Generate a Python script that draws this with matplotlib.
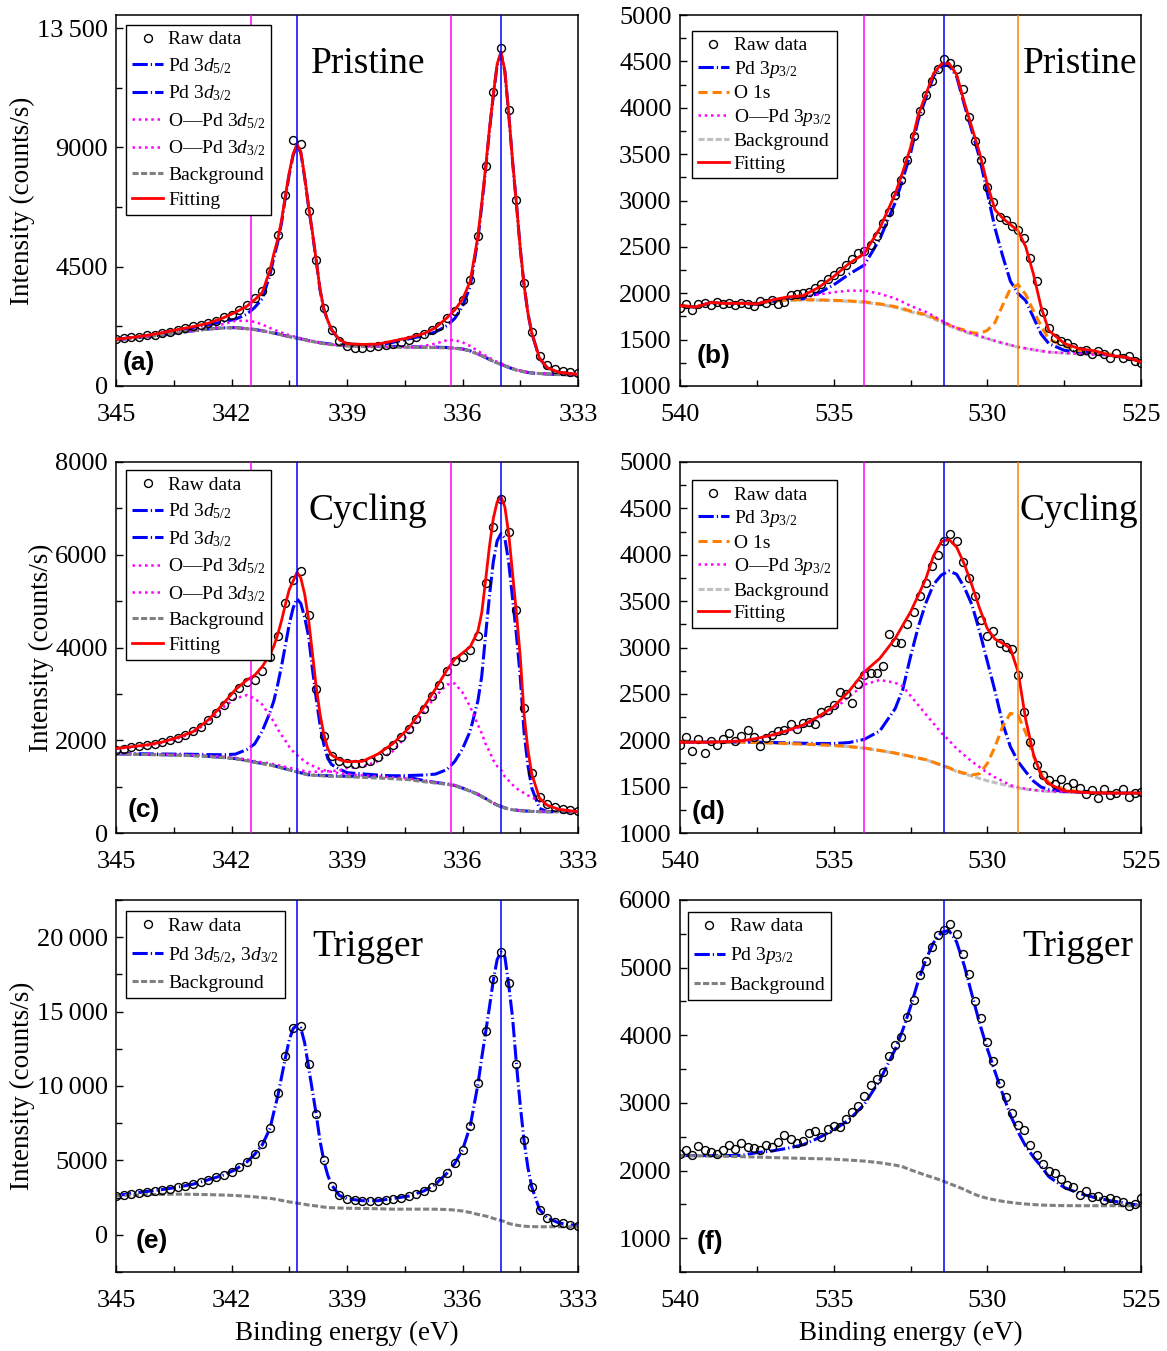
import numpy as np
import matplotlib as mpl
import matplotlib.pyplot as plt
from matplotlib.ticker import MultipleLocator, FixedLocator, FuncFormatter

mpl.use("Agg")

plt.rcParams["font.family"] = ["Liberation Serif", "DejaVu Serif"]
plt.rcParams["mathtext.fontset"] = "custom"
plt.rcParams["mathtext.rm"] = "Liberation Serif"
plt.rcParams["mathtext.it"] = "Liberation Serif:italic"
plt.rcParams["mathtext.bf"] = "Liberation Serif:bold"

# ---------------- Pd 3d region (panels a, c, e) ----------------
d_raw_x = np.linspace(345, 333, 61)
d_grid = [345.0, 344.6, 344.2, 343.8, 343.4, 343.0, 342.6, 342.2, 341.9, 341.6,
          341.4, 341.2, 341.0, 340.9, 340.8, 340.7, 340.6, 340.5, 340.4, 340.3,
          340.2, 340.1, 340.0, 339.9, 339.8, 339.7, 339.6, 339.5, 339.4, 339.2,
          339.0, 338.6, 338.2, 337.8, 337.4, 337.0, 336.7, 336.4, 336.2, 336.0,
          335.8, 335.6, 335.5, 335.4, 335.3, 335.2, 335.1, 335.0, 334.9, 334.8,
          334.7, 334.6, 334.5, 334.4, 334.3, 334.2, 334.0, 333.8, 333.5, 333.0]
d_vlines_blue = [340.3, 335.0]
d_vlines_mag = [341.5, 336.3]

# (a) Pristine
a_raw = [1780, 1800, 1840, 1850, 1920, 1940, 2010, 2050, 2120, 2200,
         2260, 2290, 2380, 2470, 2600, 2690, 2870, 3050, 3330, 3580,
         4330, 5700, 7200, 9300, 9150, 6600, 4750, 2950, 2100, 1700,
         1520, 1450, 1430, 1460, 1500, 1530, 1580, 1660, 1740, 1850,
         1960, 2100, 2280, 2560, 2840, 3250, 4000, 5650, 8300, 11100,
         12750, 10400, 7000, 3900, 2050, 1120, 800, 650, 580, 530,
         480]
a_fit = [1765, 1830, 1910, 2010, 2130, 2240, 2370, 2580, 2780, 3010,
         3250, 3530, 4380, 4990, 5530, 6250, 7190, 8050, 8750, 9130,
         8850, 7900, 6800, 5820, 4750, 3640, 2900, 2470, 2130, 1750,
         1600, 1570, 1580, 1700, 1820, 1980, 2200, 2580, 2870, 3270,
         3950, 5650, 6900, 8250, 9700, 11000, 12150, 12600, 11900, 10300,
         8500, 6900, 5200, 3800, 2750, 2000, 1050, 690, 520, 440]
a_bg = [1740, 1800, 1860, 1920, 2010, 2080, 2150, 2190, 2200, 2160,
        2130, 2080, 2020, 1990, 1960, 1930, 1890, 1860, 1830, 1800,
        1770, 1740, 1700, 1680, 1650, 1620, 1600, 1580, 1560, 1530,
        1510, 1490, 1480, 1470, 1460, 1450, 1450, 1440, 1420, 1390,
        1320, 1200, 1140, 1070, 1000, 930, 870, 820, 760, 700,
        650, 600, 570, 540, 510, 490, 470, 450, 430, 420]
a_pd52 = [1742, 1802, 1862, 1922, 2012, 2082, 2152, 2193, 2203, 2164,
          2134, 2085, 2026, 1996, 1967, 1937, 1898, 1868, 1839, 1810,
          1780, 1751, 1712, 1693, 1663, 1634, 1615, 1596, 1577, 1549,
          1531, 1520, 1540, 1650, 1775, 1905, 2038, 2280, 2550, 3000,
          3760, 5530, 6805, 8175, 9640, 10950, 12110, 12565, 11870, 10275,
          8478, 6882, 5185, 3788, 2740, 1992, 1045, 686, 517, 437]
a_pd32 = [1761, 1825, 1902, 1998, 2110, 2210, 2310, 2430, 2520, 2710,
          2960, 3290, 4210, 4850, 5420, 6160, 7120, 7990, 8700, 9090,
          8800, 7870, 6775, 5800, 4730, 3620, 2885, 2457, 2118, 1740,
          1592, 1530, 1510, 1495, 1480, 1468, 1465, 1452, 1430, 1398,
          1327, 1206, 1145, 1075, 1004, 934, 873, 823, 762, 702,
          652, 602, 572, 541, 511, 491, 471, 451, 431, 421]
a_opd52 = [1743, 1803, 1863, 1923, 2013, 2083, 2153, 2193, 2203, 2163,
           2133, 2083, 2023, 1993, 1963, 1933, 1893, 1863, 1833, 1803,
           1773, 1743, 1703, 1683, 1653, 1623, 1603, 1583, 1563, 1533,
           1515, 1497, 1490, 1482, 1485, 1510, 1600, 1730, 1730, 1650,
           1510, 1320, 1235, 1145, 1060, 980, 910, 855, 790, 725,
           672, 618, 584, 552, 520, 498, 476, 454, 433, 422]
a_opd32 = [1744, 1805, 1868, 1932, 2030, 2110, 2210, 2340, 2460, 2460,
           2420, 2320, 2190, 2130, 2070, 2020, 1960, 1920, 1880, 1840,
           1805, 1770, 1725, 1702, 1670, 1638, 1615, 1593, 1572, 1540,
           1518, 1496, 1485, 1474, 1463, 1453, 1452, 1442, 1421, 1391,
           1321, 1201, 1141, 1071, 1001, 931, 871, 821, 761, 701,
           651, 601, 571, 541, 511, 491, 471, 451, 431, 421]

# (c) Cycling
c_raw = [1800, 1820, 1850, 1870, 1890, 1920, 1960, 2000, 2050, 2110,
         2190, 2290, 2430, 2580, 2770, 2960, 3120, 3250, 3300, 3500,
         3800, 4250, 4950, 5450, 5650, 4700, 3100, 2100, 1650, 1550,
         1500, 1480, 1510, 1560, 1640, 1760, 1900, 2060, 2240, 2450,
         2680, 2950, 3200, 3500, 3700, 3800, 3950, 4250, 5400, 6600,
         7200, 6500, 4800, 2700, 1300, 780, 620, 560, 520, 500,
         470]
c_fit = [1825, 1860, 1900, 1960, 2060, 2184, 2440, 2800, 3090, 3300,
         3400, 3590, 3850, 4030, 4280, 4580, 4930, 5250, 5430, 5620,
         5500, 5150, 4620, 3890, 3150, 2560, 2120, 1820, 1680, 1580,
         1537, 1545, 1700, 1932, 2260, 2720, 3110, 3520, 3750, 3880,
         4016, 4350, 4750, 5450, 6180, 6781, 7140, 7248, 7032, 6450,
         5600, 4750, 3800, 2550, 1790, 1270, 750, 600, 510, 460]
c_bg = [1703, 1697, 1691, 1684, 1677, 1667, 1648, 1625, 1600, 1560,
        1523, 1495, 1466, 1445, 1425, 1403, 1380, 1358, 1336, 1315,
        1293, 1272, 1250, 1246, 1241, 1237, 1232, 1228, 1225, 1220,
        1214, 1200, 1186, 1170, 1150, 1106, 1078, 1050, 1020, 963,
        900, 830, 783, 740, 690, 640, 600, 568, 540, 515,
        500, 490, 481, 475, 470, 466, 460, 460, 460, 460]
c_pd52 = [1708, 1702, 1696, 1689, 1682, 1672, 1653, 1630, 1605, 1565,
          1528, 1500, 1471, 1450, 1430, 1408, 1385, 1363, 1341, 1320,
          1298, 1277, 1256, 1252, 1247, 1243, 1238, 1235, 1232, 1228,
          1224, 1225, 1225, 1230, 1240, 1250, 1270, 1370, 1545, 1813,
          2196, 2850, 3383, 4270, 5110, 5851, 6300, 6456, 6358, 5835,
          5060, 4277, 3371, 2165, 1450, 966, 530, 460, 461, 460]
c_pd32 = [1712, 1708, 1705, 1703, 1700, 1697, 1690, 1688, 1700, 1800,
          1920, 2200, 2600, 2850, 3200, 3600, 4050, 4500, 4850, 5050,
          4950, 4650, 4250, 3550, 2900, 2330, 1900, 1610, 1475, 1380,
          1300, 1275, 1250, 1230, 1200, 1130, 1090, 1058, 1026, 968,
          905, 834, 787, 744, 694, 644, 604, 572, 543, 518,
          503, 493, 484, 477, 472, 468, 462, 461, 461, 460]
c_opd52 = [1710, 1705, 1700, 1695, 1690, 1682, 1665, 1645, 1622, 1585,
           1550, 1525, 1500, 1482, 1465, 1446, 1426, 1407, 1388, 1370,
           1352, 1335, 1318, 1320, 1322, 1325, 1327, 1330, 1335, 1350,
           1400, 1430, 1550, 1770, 2140, 2620, 2950, 3200, 3225, 3030,
           2720, 2330, 2150, 1920, 1760, 1570, 1440, 1360, 1214, 1130,
           1040, 963, 910, 860, 810, 770, 680, 600, 505, 465]
c_opd32 = [1815, 1848, 1885, 1942, 2038, 2155, 2400, 2720, 2900, 2974,
           2900, 2770, 2520, 2400, 2240, 2110, 1990, 1860, 1760, 1680,
           1610, 1550, 1490, 1450, 1410, 1380, 1355, 1335, 1320, 1290,
           1265, 1240, 1220, 1198, 1173, 1125, 1095, 1064, 1032, 975,
           910, 840, 792, 748, 697, 646, 606, 574, 545, 520,
           504, 494, 485, 478, 473, 469, 463, 462, 461, 460]

# (e) Trigger
e_raw = [2620, 2700, 2760, 2830, 2900, 2950, 3030, 3110, 3180, 3280,
         3400, 3530, 3700, 3860, 4000, 4250, 4550, 4900, 5450, 6100,
         7200, 9500, 12000, 13900, 14000, 11500, 8100, 5000, 3300, 2700,
         2430, 2330, 2290, 2280, 2290, 2350, 2430, 2500, 2600, 2760,
         2920, 3200, 3600, 4150, 4850, 5700, 7300, 10200, 13700, 17200,
         19000, 16900, 11500, 6400, 3200, 1700, 1150, 880, 760, 670,
         600]
e_pd = [2620, 2780, 2910, 3040, 3200, 3400, 3700, 4020, 4380, 4900,
        5400, 6050, 7150, 8250, 9300, 10600, 11900, 13100, 13850, 14100,
        13900, 12900, 11300, 9700, 8100, 6300, 4950, 4000, 3350, 2650,
        2420, 2290, 2290, 2440, 2600, 2950, 3400, 4150, 4800, 5700,
        7300, 10100, 11900, 13600, 15300, 17100, 18500, 19000, 18700, 16800,
        14600, 11500, 8700, 6300, 4500, 3200, 1700, 1130, 800, 600]
e_bg = [2620, 2660, 2700, 2720, 2730, 2720, 2700, 2670, 2640, 2590,
        2550, 2500, 2450, 2410, 2370, 2310, 2260, 2210, 2170, 2130,
        2090, 2050, 2000, 1970, 1940, 1900, 1860, 1835, 1820, 1800,
        1785, 1770, 1750, 1724, 1724, 1724, 1720, 1700, 1660, 1600,
        1500, 1370, 1320, 1260, 1200, 1100, 1030, 960, 880, 760,
        700, 650, 610, 580, 560, 550, 540, 539, 539, 539]

# ---------------- Pd 3p / O 1s region (panels b, d, f) ----------------
p_raw_x = np.linspace(540, 525, 76)
p_grid = [540.0, 539.5, 539.0, 538.5, 538.0, 537.5, 537.0, 536.5, 536.0, 535.5,
          535.0, 534.5, 534.0, 533.5, 533.0, 532.75, 532.5, 532.25, 532.0, 531.75,
          531.5, 531.25, 531.0, 530.75, 530.5, 530.25, 530.0, 529.75, 529.5, 529.25,
          529.0, 528.75, 528.5, 528.25, 528.0, 527.5, 527.0, 526.5, 526.0, 525.5,
          525.0]
p_vline_mag = 534.0
p_vline_blue = 531.4
p_vline_orange = 529.0

# (b) Pristine
b_raw = [1840, 1880, 1820, 1880, 1900, 1870, 1910, 1880, 1900, 1870,
         1900, 1880, 1860, 1920, 1900, 1930, 1880, 1910, 1980, 1990,
         2000, 2010, 2060, 2100, 2150, 2200, 2240, 2300, 2370, 2430,
         2460, 2520, 2620, 2760, 2880, 3060, 3220, 3440, 3700, 3960,
         4140, 4290, 4420, 4530, 4480, 4420, 4200, 3900, 3640, 3440,
         3150, 2980, 2820, 2790, 2730, 2680, 2600, 2380, 2130, 1800,
         1620, 1520, 1480, 1460, 1420, 1380, 1390, 1350, 1380, 1340,
         1300, 1360, 1300, 1320, 1270, 1250]
b_fit = [1867, 1850, 1900, 1890, 1892, 1885, 1928, 1960, 1975, 2060,
         2180, 2320, 2430, 2700, 3070, 3310, 3570, 3920, 4143, 4370,
         4470, 4480, 4358, 4060, 3784, 3510, 3175, 2900, 2810, 2740,
         2673, 2500, 2207, 1850, 1598, 1460, 1401, 1380, 1329, 1311,
         1258]
b_bg = [1867, 1850, 1900, 1890, 1892, 1885, 1915, 1925, 1928, 1925,
        1921, 1913, 1903, 1880, 1849, 1827, 1800, 1780, 1760, 1725,
        1688, 1650, 1616, 1585, 1560, 1535, 1509, 1485, 1462, 1440,
        1419, 1405, 1390, 1377, 1365, 1355, 1347, 1338, 1329, 1305,
        1265]
b_pd = [1866, 1849, 1899, 1889, 1890, 1880, 1913, 1935, 1940, 2000,
        2090, 2205, 2305, 2585, 2975, 3232, 3505, 3870, 4103, 4340,
        4450, 4459, 4338, 4035, 3749, 3456, 3082, 2700, 2400, 2130,
        1998, 1920, 1740, 1560, 1458, 1385, 1366, 1358, 1332, 1308,
        1266]
b_opd = [1868, 1852, 1903, 1894, 1898, 1894, 1930, 1950, 1963, 1985,
         2011, 2028, 2028, 1995, 1944, 1905, 1865, 1830, 1800, 1755,
         1708, 1663, 1626, 1592, 1565, 1539, 1512, 1487, 1464, 1442,
         1421, 1406, 1391, 1378, 1366, 1356, 1348, 1339, 1330, 1306,
         1266]
b_o1s = [1868, 1851, 1901, 1891, 1893, 1887, 1917, 1927, 1931, 1928,
         1924, 1917, 1907, 1885, 1855, 1834, 1808, 1789, 1770, 1737,
         1700, 1658, 1626, 1603, 1575, 1565, 1600, 1685, 1872, 2050,
         2094, 1985, 1810, 1647, 1505, 1430, 1382, 1360, 1344, 1315,
         1273]

# (d) Cycling
d_raw = [1950, 2030, 1880, 2010, 1860, 1990, 1950, 2010, 2080, 1990,
         2050, 2110, 2030, 1940, 2020, 2060, 2100, 2110, 2180, 2120,
         2190, 2200, 2170, 2300, 2330, 2380, 2520, 2500, 2400, 2610,
         2700, 2720, 2730, 2800, 3150, 3060, 3050, 3250, 3380, 3550,
         3700, 3880, 4000, 4150, 4220, 4150, 3920, 3750, 3550, 3300,
         3120, 3180, 3050, 3010, 2980, 2700, 2300, 1980, 1730, 1620,
         1570, 1530, 1580, 1500, 1540, 1480, 1420, 1460, 1380, 1470,
         1410, 1430, 1470, 1390, 1430, 1440]
d_fit = [1979, 1979, 1979, 1985, 1993, 2020, 2057, 2105, 2165, 2255,
         2362, 2530, 2738, 2882, 3097, 3240, 3383, 3560, 3742, 3990,
         4140, 4165, 4082, 3900, 3670, 3420, 3204, 3090, 3045, 2990,
         2738, 2220, 1850, 1620, 1530, 1455, 1440, 1432, 1430, 1430,
         1430]
d_bg = [1979, 1979, 1979, 1979, 1979, 1974, 1968, 1963, 1957, 1950,
        1943, 1930, 1914, 1888, 1860, 1843, 1825, 1807, 1789, 1760,
        1730, 1700, 1663, 1638, 1613, 1588, 1563, 1543, 1523, 1503,
        1484, 1472, 1462, 1454, 1448, 1442, 1437, 1433, 1430, 1430,
        1430]
d_pd = [1980, 1980, 1981, 1981, 1982, 1980, 1976, 1972, 1968, 1965,
        1965, 1975, 2010, 2100, 2340, 2550, 2900, 3220, 3480, 3680,
        3780, 3825, 3790, 3650, 3460, 3170, 2850, 2530, 2180, 1930,
        1770, 1660, 1560, 1495, 1470, 1447, 1440, 1435, 1431, 1430,
        1430]
d_opd = [1980, 1980, 1980, 1984, 1990, 2012, 2048, 2095, 2150, 2235,
         2330, 2470, 2600, 2650, 2620, 2580, 2480, 2380, 2280, 2180,
         2080, 2000, 1910, 1840, 1770, 1710, 1650, 1600, 1560, 1515,
         1495, 1475, 1465, 1456, 1450, 1443, 1438, 1434, 1431, 1430,
         1430]
d_o1s = [1981, 1981, 1981, 1981, 1981, 1976, 1970, 1965, 1959, 1952,
         1945, 1932, 1916, 1890, 1862, 1845, 1827, 1809, 1791, 1763,
         1733, 1704, 1668, 1645, 1625, 1640, 1750, 1930, 2150, 2290,
         2270, 2080, 1830, 1640, 1545, 1470, 1445, 1437, 1433, 1431,
         1431]

# (f) Trigger
f_raw = [2250, 2300, 2230, 2370, 2310, 2280, 2250, 2300, 2380, 2320,
         2400, 2350, 2330, 2300, 2380, 2350, 2420, 2520, 2460, 2400,
         2440, 2560, 2580, 2500, 2620, 2660, 2650, 2760, 2870, 2950,
         3100, 3260, 3350, 3460, 3700, 3850, 3980, 4270, 4520, 4890,
         5100, 5300, 5480, 5550, 5650, 5500, 5200, 4900, 4500, 4250,
         3900, 3620, 3300, 3080, 2850, 2680, 2600, 2380, 2230, 2100,
         2000, 1960, 1880, 1780, 1760, 1640, 1700, 1610, 1620, 1570,
         1600, 1560, 1530, 1470, 1500, 1600]
f_pd = [2221, 2221, 2221, 2221, 2225, 2265, 2290, 2330, 2380, 2480,
        2600, 2750, 2980, 3334, 3790, 4080, 4420, 4800, 5120, 5370,
        5520, 5550, 5380, 5030, 4600, 4175, 3800, 3460, 3130, 2820,
        2570, 2360, 2200, 2060, 1910, 1750, 1660, 1600, 1554, 1520,
        1480]
f_bg = [2221, 2218, 2214, 2210, 2205, 2199, 2192, 2186, 2180, 2175,
        2168, 2155, 2140, 2115, 2080, 2055, 2010, 1970, 1930, 1895,
        1855, 1810, 1765, 1720, 1665, 1620, 1590, 1565, 1545, 1529,
        1515, 1505, 1497, 1490, 1486, 1481, 1480, 1480, 1480, 1480,
        1480]

BLUE = "#0000ff"
MAG = "#ff00ff"
ORANGE = "#ff8000"
RED = "#ff0000"
GRAY = "#808080"
LGRAY = "#c0c0c0"

PD_LS = (0, (5, 1, 0.4, 1))
BG_LS = (0, (2, 0.8))
MAG_LS = (0, (1, 1.5))
OR_LS = (0, (3, 1.6))

fig = plt.figure(figsize=(11.67, 13.51), dpi=100)
W, H = 1167, 1351
rows = [(15, 386), (462, 833), (900, 1272)]
axes = {}
for r, (top, bot) in enumerate(rows):
    axes[2 * r] = fig.add_axes([116 / W, 1 - bot / H, 462 / W, (bot - top) / H])
    axes[2 * r + 1] = fig.add_axes([680 / W, 1 - bot / H, 461 / W, (bot - top) / H])


def fmt(v, pos):
    v = int(round(v))
    if abs(v) >= 10000:
        return f"{v // 1000}\u2009{v % 1000:03d}"
    return f"{v}"


def style(ax, xlim, xmaj, xmin, ylim, ymaj, ymin):
    ax.set_xlim(*xlim)
    ax.set_ylim(*ylim)
    ax.xaxis.set_major_locator(MultipleLocator(xmaj))
    ax.xaxis.set_minor_locator(MultipleLocator(xmin))
    ax.yaxis.set_major_locator(FixedLocator(ymaj))
    ax.yaxis.set_minor_locator(MultipleLocator(ymin))
    ax.yaxis.set_major_formatter(FuncFormatter(fmt))
    ax.tick_params(which="both", direction="in", labelsize=19, width=1)
    ax.tick_params(which="major", length=5)
    ax.tick_params(which="minor", length=4)
    ax.tick_params(axis="x", which="major", pad=13)
    ax.tick_params(axis="y", which="major", pad=6)
    for s in ax.spines.values():
        s.set_linewidth(1.1)


def raw(ax, x, y):
    ax.plot(x, y, "o", ms=5.7, mfc="none", mec="k", mew=1.0, label="Raw data", zorder=3)


def legend(ax, anchor, spacing):
    lg = ax.legend(loc="upper left", bbox_to_anchor=anchor, borderaxespad=0,
                   fontsize=14, frameon=True, fancybox=False, framealpha=1,
                   edgecolor="k", handlelength=1.6, handletextpad=0.25,
                   labelspacing=spacing, borderpad=0.3)
    lg.get_frame().set_linewidth(1.0)
    lg.set_zorder(10)


def texts(ax, lab, lab_xy, title, title_xy, ha):
    ax.text(*lab_xy, lab, transform=ax.transAxes, fontfamily="Liberation Sans",
            fontweight="bold", fontsize=19, va="center", ha="left")
    ax.text(*title_xy, title, transform=ax.transAxes, fontsize=27, va="baseline", ha=ha)


def d_panel(ax, rawv, fit, bg, pd52, pd32, opd52, opd32, lab, title, lab_xy, anchor):
    raw(ax, d_raw_x, rawv)
    ax.plot(d_grid, pd52, color=BLUE, lw=2.2, ls=PD_LS, label=r"Pd 3$d_{5/2}$", zorder=2)
    ax.plot(d_grid, pd32, color=BLUE, lw=2.2, ls=PD_LS, label=r"Pd 3$d_{3/2}$", zorder=2)
    ax.plot(d_grid, opd52, color=MAG, lw=1.8, ls=MAG_LS, label=r"O—Pd 3$d_{5/2}$", zorder=2)
    ax.plot(d_grid, opd32, color=MAG, lw=1.8, ls=MAG_LS, label=r"O—Pd 3$d_{3/2}$", zorder=2)
    ax.plot(d_grid, bg, color=GRAY, lw=2.2, ls=BG_LS, label="Background", zorder=2)
    ax.plot(d_grid, fit, color=RED, lw=2.0, label="Fitting", zorder=4)
    for v in d_vlines_blue:
        ax.axvline(v, color=BLUE, lw=1.1, zorder=5)
    for v in d_vlines_mag:
        ax.axvline(v, color=MAG, lw=1.1, zorder=5)
    texts(ax, lab, lab_xy, title, (0.545, 0.844), "center")
    legend(ax, anchor, 0.40)


def p_panel(ax, rawv, fit, bg, pd, o1s, opd, lab, title, lab_xy, anchor):
    raw(ax, p_raw_x, rawv)
    ax.plot(p_grid, pd, color=BLUE, lw=2.2, ls=PD_LS, label=r"Pd 3$p_{3/2}$", zorder=2)
    ax.plot(p_grid, o1s, color=ORANGE, lw=2.2, ls=OR_LS, label="O 1s", zorder=2)
    ax.plot(p_grid, opd, color=MAG, lw=1.8, ls=MAG_LS, label=r"O—Pd 3$p_{3/2}$", zorder=2)
    ax.plot(p_grid, bg, color=LGRAY, lw=2.2, ls=BG_LS, label="Background", zorder=1.9)
    ax.plot(p_grid, fit, color=RED, lw=2.0, label="Fitting", zorder=4)
    ax.axvline(p_vline_mag, color=MAG, lw=1.1, zorder=5)
    ax.axvline(p_vline_blue, color=BLUE, lw=1.1, zorder=5)
    ax.axvline(p_vline_orange, color=ORANGE, lw=1.1, zorder=5)
    texts(ax, lab, lab_xy, title, (0.993, 0.844), "right")
    legend(ax, anchor, 0.24)


p_yticks = list(range(1000, 5001, 500))

ax = axes[0]
d_panel(ax, a_raw, a_fit, a_bg, a_pd52, a_pd32, a_opd52, a_opd32,
        "(a)", "Pristine", (0.015, 0.062), (0.022, 0.973))
style(ax, (345, 333), 3, 1.5, (0, 14000), [0, 4500, 9000, 13500], 2250)

ax = axes[1]
p_panel(ax, b_raw, b_fit, b_bg, b_pd, b_o1s, b_opd,
        "(b)", "Pristine", (0.037, 0.081), (0.026, 0.957))
style(ax, (540, 525), 5, 2.5, (1000, 5000), p_yticks, 250)

ax = axes[2]
d_panel(ax, c_raw, c_fit, c_bg, c_pd52, c_pd32, c_opd52, c_opd32,
        "(c)", "Cycling", (0.026, 0.062), (0.022, 0.978))
style(ax, (345, 333), 3, 1.5, (0, 8000), [0, 2000, 4000, 6000, 8000], 1000)

ax = axes[3]
p_panel(ax, d_raw, d_fit, d_bg, d_pd, d_o1s, d_opd,
        "(d)", "Cycling", (0.026, 0.057), (0.026, 0.951))
style(ax, (540, 525), 5, 2.5, (1000, 5000), p_yticks, 250)

ax = axes[4]
raw(ax, d_raw_x, e_raw)
ax.plot(d_grid, e_pd, color=BLUE, lw=2.2, ls=PD_LS, label=r"Pd 3$d_{5/2}$, 3$d_{3/2}$", zorder=2)
ax.plot(d_grid, e_bg, color=GRAY, lw=2.2, ls=BG_LS, label="Background", zorder=2)
for v in d_vlines_blue:
    ax.axvline(v, color=BLUE, lw=1.1, zorder=5)
texts(ax, "(e)", (0.043, 0.083), "Trigger", (0.545, 0.849), "center")
legend(ax, (0.022, 0.970), 0.52)
style(ax, (345, 333), 3, 1.5, (-2500, 22500), [0, 5000, 10000, 15000, 20000], 2500)

ax = axes[5]
raw(ax, p_raw_x, f_raw)
ax.plot(p_grid, f_pd, color=BLUE, lw=2.2, ls=PD_LS, label=r"Pd 3$p_{3/2}$", zorder=2)
ax.plot(p_grid, f_bg, color=GRAY, lw=2.2, ls=BG_LS, label="Background", zorder=2)
ax.axvline(p_vline_blue, color=BLUE, lw=1.1, zorder=5)
texts(ax, "(f)", (0.037, 0.081), "Trigger", (0.983, 0.849), "right")
legend(ax, (0.017, 0.968), 0.52)
style(ax, (540, 525), 5, 2.5, (500, 6000), [1000, 2000, 3000, 4000, 5000, 6000], 500)

for i in (0, 2, 4):
    axes[i].set_ylabel("Intensity (counts/s)", fontsize=19.5, labelpad=1)
for i in (4, 5):
    axes[i].set_xlabel("Binding energy (eV)", fontsize=19.5, labelpad=6)

fig.savefig("out.png", dpi=100)
